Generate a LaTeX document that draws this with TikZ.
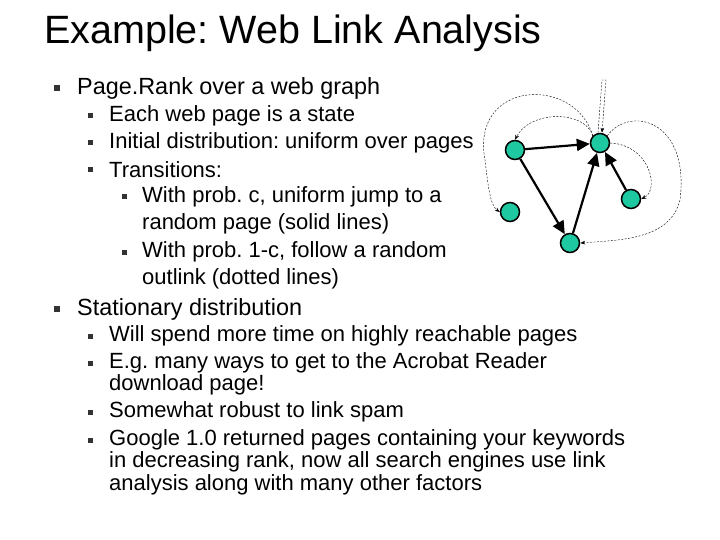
\documentclass[tikz,border=0pt]{standalone}
\usepackage{fontspec}
\setmainfont{Liberation Sans}
\usetikzlibrary{arrows.meta}
\definecolor{pgc}{RGB}{30,200,160}
\frenchspacing
\begin{document}
\begin{tikzpicture}[x=1pt,y=-1pt,
  la/.style={anchor=west,font=\fontsize{23.4}{23.4}\selectfont,inner sep=0},
  lb/.style={anchor=west,font=\fontsize{22}{22}\selectfont,inner sep=0},
  bul/.style={fill=black!80,minimum size=6pt,inner sep=0},
  pg/.style={circle,draw=black,line width=1.5pt,fill=pgc,minimum size=19pt,inner sep=0},
  solid link/.style={line width=2.2pt,-{Triangle[length=13pt,width=12pt]}},
  dot link/.style={dashed,dash pattern=on 2pt off 1.5pt,thin,-{Stealth[length=5pt]}}]
\useasboundingbox (0,0) rectangle (720,540);
\node[anchor=west,font=\fontsize{39.5}{39.5}\selectfont,inner sep=0] (title) at (44,33) {Example: Web Link Analysis};
\foreach \y/\t [count=\i] in {88/Page.Rank over a web graph,309/Stationary distribution}
  {\node[bul] (b1\i) at (57,\y) {}; \node[la] (t1\i) at (77,\y) {\t};}
\foreach \y/\t [count=\i] in {116/Each web page is a state,143/Initial distribution: uniform over pages,170/Transitions:,336/Will spend more time on highly reachable pages,363/E.g. many ways to get to the Acrobat Reader,412/Somewhat robust to link spam,440/Google 1.0 returned pages containing your keywords}
  {\node[bul,minimum size=5pt] (b2\i) at (90,\y) {}; \node[lb] (t2\i) at (109,\y) {\t};}
\node[lb] (t2x) at (109,385) {download page!};
\node[lb] (t2y) at (109,462) {in decreasing rank, now all search engines use link};
\node[lb] (t2z) at (109,485) {analysis along with many other factors};
\foreach \y/\t [count=\i] in {197/{With prob. c, uniform jump to a},252/{With prob. 1-c, follow a random}}
  {\node[bul,minimum size=5pt] (b3\i) at (124,\y) {}; \node[lb] (t3\i) at (142,\y) {\t};}
\node[lb] (t3x) at (142,224) {random page (solid lines)};
\node[lb] (t3y) at (142,279) {outlink (dotted lines)};
% graph
\node[pg] (A) at (515,150) {};
\node[pg] (B) at (600,143) {};
\node[pg] (C) at (510,212) {};
\node[pg] (D) at (570,243) {};
\node[pg] (E) at (631,199) {};
\draw[solid link] (A) -- (B);
\draw[solid link] (A) -- (D);
\draw[solid link] (D) -- (B);
\draw[solid link] (E) -- (B);
\draw[dot link] (B.north) ++(-2,0) -- (602,80) -- (606,80) -- ([xshift=2pt]B.north);
\draw[dot link] (B.north west) .. controls (585,110) and (530,110) .. (A.north);
\draw[dot link] (B.north west) .. controls (575,75) and (470,80) .. (485,160) .. controls (488,185) and (490,205) .. (C.west);
\draw[dot link] (B.east) .. controls (650,145) and (660,190) .. (E.east);
\draw[dot link] (B.north east) .. controls (630,105) and (690,120) .. (680,200) .. controls (670,240) and (620,240) .. (D.east);
\end{tikzpicture}
\end{document}
